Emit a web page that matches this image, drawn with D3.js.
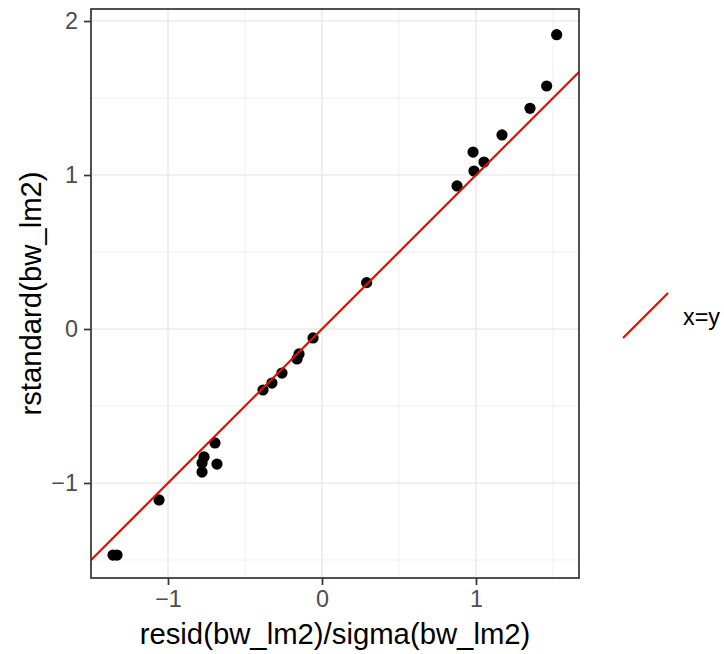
<!DOCTYPE html>
<html>
<head>
<meta charset="utf-8">
<script src="https://cdn.jsdelivr.net/npm/d3@7"></script>
<style>
  body { margin: 0; background: #fff; }
  svg { display: block; font-family: "Liberation Sans", Arial, sans-serif; }
</style>
</head>
<body>
<svg id="chart" width="724" height="654"></svg>
<script>
// Scaled residuals vs. standardised residuals of bw_lm2
const residScaled = [
  1.524, 1.459, 1.351, 1.169, 0.981, 1.052, 0.987, 0.877,
  0.290, -0.058, -0.149, -0.162, -0.260, -0.325, -0.383,
  -0.695, -0.766, -0.779, -0.682, -0.779, -1.058, -1.357, -1.331
];
const rstandardVals = [
  1.911, 1.578, 1.433, 1.260, 1.149, 1.084, 1.026, 0.929,
  0.301, -0.058, -0.162, -0.195, -0.286, -0.351, -0.396,
  -0.740, -0.831, -0.870, -0.877, -0.929, -1.110, -1.468, -1.468
];
const xTicks = [-1, 0, 1];
const yTicks = [-1, 0, 1, 2];
const xMinor = [-1.5, -0.5, 0.5, 1.5];
const yMinor = [-1.5, -0.5, 0.5, 1.5];
const xDomain = [-1.5, 1.669];
const yDomain = [-1.617, 2.078];
const refLabel = "x=y";

const svg = d3.select("#chart");
const panel = { left: 91, right: 579, top: 9, bottom: 578 };
const FONT = "Liberation Sans, Arial, sans-serif";

const x = d3.scaleLinear().domain(xDomain).range([panel.left, panel.right]);
const y = d3.scaleLinear().domain(yDomain).range([panel.bottom, panel.top]);

const fmt = d => (d < 0 ? "\u2212" + Math.abs(d) : String(d));

// grid
const grid = svg.append("g");
grid.selectAll(".xminor").data(xMinor).join("line")
  .attr("x1", d => x(d)).attr("x2", d => x(d))
  .attr("y1", panel.top).attr("y2", panel.bottom)
  .attr("stroke", "#EBEBEB").attr("stroke-width", 0.8);
grid.selectAll(".yminor").data(yMinor).join("line")
  .attr("y1", d => y(d)).attr("y2", d => y(d))
  .attr("x1", panel.left).attr("x2", panel.right)
  .attr("stroke", "#EBEBEB").attr("stroke-width", 0.8);
grid.selectAll(".xmajor").data(xTicks).join("line")
  .attr("x1", d => x(d)).attr("x2", d => x(d))
  .attr("y1", panel.top).attr("y2", panel.bottom)
  .attr("stroke", "#EBEBEB").attr("stroke-width", 1.6);
grid.selectAll(".ymajor").data(yTicks).join("line")
  .attr("y1", d => y(d)).attr("y2", d => y(d))
  .attr("x1", panel.left).attr("x2", panel.right)
  .attr("stroke", "#EBEBEB").attr("stroke-width", 1.6);

// clip for data layers
svg.append("clipPath").attr("id", "clip").append("rect")
  .attr("x", panel.left).attr("y", panel.top)
  .attr("width", panel.right - panel.left).attr("height", panel.bottom - panel.top);

const data = residScaled.map((v, i) => ({ x: v, y: rstandardVals[i] }));

const layer = svg.append("g").attr("clip-path", "url(#clip)");
layer.selectAll("circle").data(data).join("circle")
  .attr("cx", d => x(d.x)).attr("cy", d => y(d.y))
  .attr("r", 5.6).attr("fill", "#000");

// reference line y = x
layer.append("line")
  .attr("x1", x(xDomain[0])).attr("y1", y(xDomain[0]))
  .attr("x2", x(xDomain[1])).attr("y2", y(xDomain[1]))
  .attr("stroke", "#FF0000").attr("stroke-width", 2.2);

// panel border
svg.append("rect")
  .attr("x", panel.left).attr("y", panel.top)
  .attr("width", panel.right - panel.left).attr("height", panel.bottom - panel.top)
  .attr("fill", "none").attr("stroke", "#333333").attr("stroke-width", 1.7);

// axes
const xAxis = d3.axisBottom(x).tickValues(xTicks).tickFormat(fmt).tickSize(7).tickPadding(5);
const gx = svg.append("g").attr("transform", `translate(0,${panel.bottom})`).call(xAxis);
gx.select(".domain").remove();
gx.selectAll(".tick line").attr("stroke", "#333333").attr("stroke-width", 1.7);
gx.selectAll(".tick text").attr("fill", "#4D4D4D").attr("font-size", 23.4)
  .attr("font-family", FONT);

const yAxis = d3.axisLeft(y).tickValues(yTicks).tickFormat(fmt).tickSize(7).tickPadding(6);
const gy = svg.append("g").attr("transform", `translate(${panel.left},0)`).call(yAxis);
gy.select(".domain").remove();
gy.selectAll(".tick line").attr("stroke", "#333333").attr("stroke-width", 1.7);
gy.selectAll(".tick text").attr("fill", "#4D4D4D").attr("font-size", 23.4)
  .attr("font-family", FONT);

// axis titles
svg.append("text")
  .attr("x", (panel.left + panel.right) / 2).attr("y", 644)
  .attr("text-anchor", "middle").attr("font-size", 29.3).attr("fill", "#000")
  .attr("font-family", FONT)
  .text("resid(bw_lm2)/sigma(bw_lm2)");
svg.append("text")
  .attr("transform", `translate(41,${(panel.top + panel.bottom) / 2}) rotate(-90)`)
  .attr("text-anchor", "middle").attr("font-size", 29.3).attr("fill", "#000")
  .attr("font-family", FONT)
  .text("rstandard(bw_lm2)");

// legend
const legend = svg.append("g").attr("transform", "translate(623,293)");
legend.append("line")
  .attr("x1", 0).attr("y1", 45).attr("x2", 45).attr("y2", 0)
  .attr("stroke", "#FF0000").attr("stroke-width", 2.2);
legend.append("text")
  .attr("x", 60).attr("y", 24).attr("dy", "0.35em")
  .attr("font-size", 23.4).attr("fill", "#000").attr("font-family", FONT)
  .text(refLabel);
</script>
</body>
</html>
